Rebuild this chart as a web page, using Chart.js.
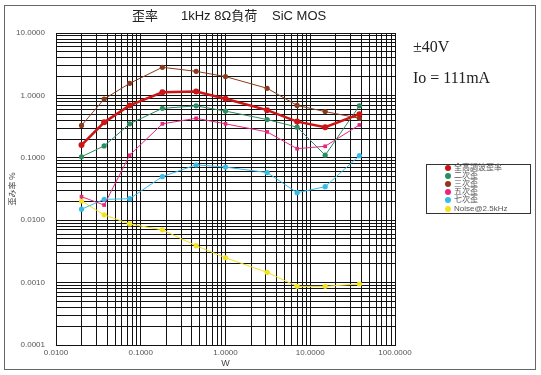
<!DOCTYPE html>
<html>
<head>
<meta charset="utf-8">
<script src="https://cdn.jsdelivr.net/npm/chart.js@4"></script>
<style>
  html, body { margin: 0; padding: 0; background: #fff; }
  #wrap { position: relative; width: 541px; height: 375px; overflow: hidden; }
  #frame { position: absolute; left: 4px; top: 5px; width: 532px; height: 365px; border: 1px solid #666; box-sizing: border-box; }
  .title { position: absolute; top: 7px; font: 13px "Liberation Sans", "Noto Sans CJK JP", sans-serif; color: #222; white-space: pre; line-height: 17px; }
  .note { position: absolute; left: 413px; font: 16px "Liberation Serif", serif; color: #222; white-space: pre; }
  #legend { position: absolute; left: 426px; top: 164px; width: 105px; height: 50px; border: 1px solid #333; box-sizing: border-box; background: #fff; }
  #legend div { position: absolute; left: 27px; font: 8px "Liberation Sans", "Noto Sans CJK JP", sans-serif; color: #555; white-space: nowrap; line-height: 8px; }
  #legend span { position: absolute; left: -9px; top: 1px; width: 6px; height: 6px; border-radius: 3px; }
  canvas { position: absolute; left: 0; top: 0; }
</style>
</head>
<body>
<div id="wrap">
  <canvas id="distChart" width="541" height="375"></canvas>
  <div id="frame"></div>
  <div class="title" style="left:132px">歪率</div>
  <div class="title" style="left:181px">1kHz 8Ω負荷</div>
  <div class="title" style="left:272px">SiC MOS</div>
  <div class="note" style="top:38px">±40V</div>
  <div class="note" style="top:69px">Io = 111mA</div>
  <div id="legend"></div>
</div>
<script>
// 出力 (W)
const power = [0.02, 0.037, 0.074, 0.18, 0.45, 1.0, 3.1, 7.0, 15, 38];

// 歪み率 %
const thd     = [0.16, 0.37, 0.69, 1.12, 1.15, 0.885, 0.58, 0.38, 0.31, 0.50];
const second  = [0.104, 0.155, 0.35, 0.62, 0.68, 0.56, 0.41, 0.31, 0.11, 0.68];
const third   = [0.33, 0.875, 1.56, 2.82, 2.43, 2.0, 1.30, 0.69, 0.55, 0.43];
const fifth   = [0.0238, 0.0175, 0.11, 0.35, 0.43, 0.35, 0.26, 0.14, 0.153, 0.336];
const seventh = [0.0150, 0.0216, 0.0221, 0.050, 0.077, 0.071, 0.058, 0.0276, 0.0344, 0.108];
const noise   = [0.0203, 0.0122, 0.0087, 0.0070, 0.0039, 0.0025, 0.00146, 0.00087, 0.00087, 0.00095];

// 目盛 (decades)
const xDecades = [0.01, 0.1, 1, 10, 100];
const yDecades = [0.0001, 0.001, 0.01, 0.1, 1, 10];

// 1..9 の補助目盛を作る
function logTicks(decades) {
    const out = [];
    decades.forEach((d, i) => {
        if (i === decades.length - 1) { out.push({value: d}); return; }
        for (let k = 1; k <= 9; k++) out.push({value: +(k * d).toPrecision(6)});
    });
    return out;
}

function decadeLabel(value) {
    const e = Math.log10(value);
    return Math.abs(e - Math.round(e)) < 1e-9 ? value.toFixed(4) : '';
}

function series(label, values, color, width, style) {
    return {
        label: label,
        data: power.map((p, i) => ({x: p, y: values[i]})),
        borderColor: color,
        backgroundColor: color,
        borderWidth: width,
        pointRadius: width > 2 ? 3 : 2.6,
        pointStyle: style || 'circle',
        pointBorderWidth: 0,
        tension: 0
    };
}

const datasets = [
    series('全高調波歪率', thd, '#cc1414', 2.5),
    series('二次歪', second, '#2e8b62', 1),
    series('三次歪', third, '#8b3a1e', 1),
    series('五次歪', fifth, '#e6267f', 1, 'rect'),
    series('七次歪', seventh, '#33bde8', 1),
    series('Noise@2.5kHz', noise, '#f4e31a', 1)
];

const tickFont = {family: 'Liberation Sans, Arial, sans-serif', size: 8};

new Chart(document.getElementById('distChart').getContext('2d'), {
    type: 'line',
    data: {datasets: datasets},
    options: {
        responsive: false,
        animation: false,
        layout: {padding: {left: 0, top: 33, right: 146, bottom: 0}},
        plugins: {legend: {display: false}, tooltip: {enabled: false}},
        scales: {
            x: {
                type: 'logarithmic',
                min: 0.01,
                max: 100,
                afterBuildTicks: s => { s.ticks = logTicks(xDecades); },
                afterFit: s => { s.height = 30; },
                grid: {color: '#111', lineWidth: 1, drawTicks: false},
                border: {color: '#111'},
                ticks: {autoSkip: false, maxRotation: 0, padding: 3, color: '#555', font: tickFont,
                        callback: v => decadeLabel(v)},
                title: {display: true, text: 'W', color: '#444', font: {family: 'Liberation Sans, Arial', size: 9},
                        padding: {top: 0, bottom: 6}}
            },
            y: {
                type: 'logarithmic',
                min: 0.0001,
                max: 10,
                afterBuildTicks: s => { s.ticks = logTicks(yDecades); },
                afterFit: s => { s.width = 56; },
                grid: {color: '#111', lineWidth: 1, drawTicks: false},
                border: {color: '#111'},
                ticks: {autoSkip: false, padding: 11, color: '#555', font: tickFont,
                        callback: v => decadeLabel(v)},
                title: {display: true, text: '歪み率 %', color: '#444',
                        font: {family: 'Noto Sans CJK JP, sans-serif', size: 8}, padding: {top: 7, bottom: 0}}
            }
        }
    }
});

// 凡例
const legend = document.getElementById('legend');
datasets.forEach((ds, i) => {
    const row = document.createElement('div');
    row.style.top = (-1 + i * 8.1) + 'px';
    row.innerHTML = '<span style="background:' + ds.borderColor + '"></span>' + ds.label;
    legend.appendChild(row);
});
</script>
</body>
</html>
